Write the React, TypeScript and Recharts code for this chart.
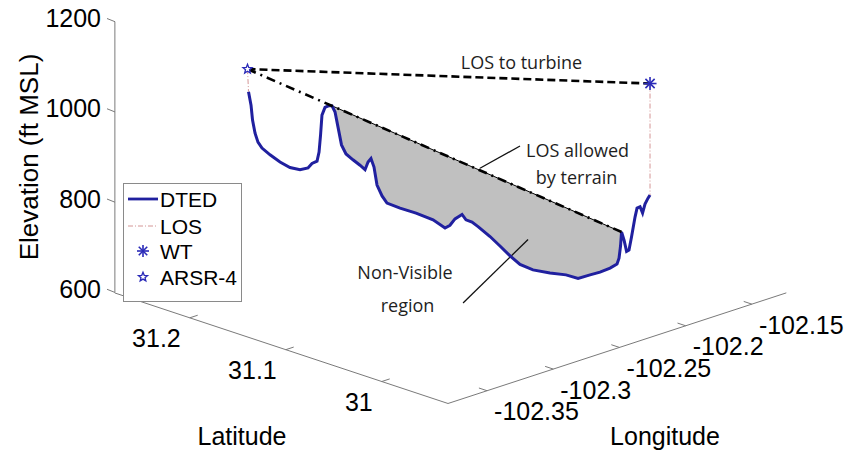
import type { CSSProperties } from "react";
import {
  ComposedChart,
  XAxis,
  YAxis,
  Line,
  Area,
  Scatter,
  ReferenceLine,
  ReferenceDot,
  Legend,
} from "recharts";

// Terrain (DTED) profile along the ARSR-4 -> wind turbine path.
// km = distance from the radar, ft = elevation
const PROFILE_KM = [
  0.1, 0.35, 0.5, 0.75, 1.04, 1.44, 2.24, 3.23, 4.22, 5.22, 6.01, 6.41, 6.91, 7.11, 7.26, 7.4, 7.7, 8.1,
  8.4, 8.7, 8.99, 9.34, 9.79, 10.48, 11.18, 11.68, 11.98, 12.27, 12.57, 12.87, 13.37, 13.86, 15.16, 16.75,
  18.44, 19.63, 20.12, 20.62, 21.32, 21.71, 22.31, 22.91, 24.1, 25.09, 26.09, 27.08, 28.37, 30.06, 31.65,
  32.85, 34.04, 35.03, 36.03, 36.72, 36.92, 37.07, 37.17, 37.42, 37.67, 37.91, 38.16, 38.51, 38.71, 39.01,
  39.26, 39.5, 39.8, 40,
];
const PROFILE_FT = [
  1045, 1015, 982, 953, 933, 920, 905, 889, 877, 872, 876, 886, 891, 911, 949, 993, 1010, 1014,
  1013.5, 1000, 967, 927, 907, 894, 882, 872, 889, 897, 878, 838, 814, 798, 787, 776,
  761, 743, 749, 763, 773, 761, 756, 746, 724, 703, 681, 662, 650, 643, 639,
  631, 639, 645, 654, 663, 676, 703, 734, 716, 691, 694, 723, 767, 787, 790,
  776, 796, 809, 816,
];

// radar and turbine antenna heights
const ARSR_KM = 0;
const ARSR_FT = 1095;
const WT_KM = 40;
const WT_FT = 1063;

// terrain-limited line of sight: tangent point and where it meets the ground again
const SHADOW_FROM_KM = 8.4;
const SHADOW_TO_KM = 37.17;

// axes
const ELEV_TICKS = [600, 800, 1000, 1200];
const LAT_TICKS = [31, 31.1, 31.2];
const LON_TICKS = [-102.35, -102.3, -102.25, -102.2, -102.15];
const LAT_RANGE = [30.931, 31.278];
const LON_RANGE = [-102.3795, -102.124];

const LEGEND_ITEMS = ["DTED", "LOS", "WT", "ARSR-4"];

// chart frame
const CHART_W = 854;
const CHART_H = 453;
const Y_AXIS_W = 114;
const X_DOMAIN: [number, number] = [-13.267, 60.27];
const Y_DOMAIN: [number, number] = [244.3, 1248.1];

const AXIS_FONT = '"Liberation Sans", Arial, sans-serif';
const NOTE_FONT = '"Open Sans", "Noto Sans", sans-serif';
const AXIS_GRAY = "#7a7a7a";
const DTED_BLUE = "#20209f";
const LOS_PINK = "#d49696";
const MARKER_BLUE = "#2a2ab8";

const profile = PROFILE_KM.map((km, i) => ({ km, ft: PROFILE_FT[i] }));
const shadowCover = profile.filter((p) => p.km >= 8.0 && p.km <= 37.5);
const shadowTop = profile.filter((p) => p.km === SHADOW_FROM_KM || p.km === SHADOW_TO_KM);
const groundAtRadar = profile[0];
const groundAtTurbine = profile[profile.length - 1];
const groundAtShadowEnd = shadowTop[shadowTop.length - 1];

// oblique view of the 600 ft floor plane, in chart units (km, ft)
function floorPt(lat: number, lon: number) {
  const dLat = lat - LAT_RANGE[0];
  const dLon = lon - LON_RANGE[0];
  return {
    x: 19.925 - 95.4 * dLat + 131.58 * dLon,
    y: 354.0 + 705.7 * dLat + 959.4 * dLon,
  };
}

function segment(a: { x: number; y: number }, b: { x: number; y: number }, key: string, stroke = AXIS_GRAY, width = 1) {
  return (
    <ReferenceLine
      key={key}
      segment={[a, b]}
      stroke={stroke}
      strokeWidth={width}
      ifOverflow="visible"
    />
  );
}

function textAt(
  x: number,
  y: number,
  text: string,
  key: string,
  style: { size: number; font: string; anchor?: string; dx?: number; dy?: number; color?: string }
) {
  return (
    <ReferenceDot
      key={key}
      x={x}
      y={y}
      r={0}
      ifOverflow="visible"
      shape={(p: any) => (
        <text
          x={p.cx + (style.dx || 0)}
          y={p.cy + (style.dy || 0)}
          textAnchor={style.anchor || "middle"}
          dominantBaseline="central"
          fontSize={style.size}
          fontFamily={style.font}
          fill={style.color || "#000"}
        >
          {text}
        </text>
      )}
    />
  );
}

function starPoints(cx: number, cy: number, R: number, r: number) {
  const pts: string[] = [];
  for (let i = 0; i < 10; i++) {
    const rad = i % 2 === 0 ? R : r;
    const a = -Math.PI / 2 + (i * Math.PI) / 5;
    pts.push(`${cx + rad * Math.cos(a)},${cy + rad * Math.sin(a)}`);
  }
  return pts.join(" ");
}

function Pentagram({ cx, cy }: { cx: number; cy: number }) {
  return <polygon points={starPoints(cx, cy, 4.8, 2.1)} fill="#fff" stroke={MARKER_BLUE} strokeWidth={1.3} />;
}

function Asterisk({ cx, cy, r = 6.5 }: { cx: number; cy: number; r?: number }) {
  const d = r * 0.7071;
  return (
    <g stroke={MARKER_BLUE} strokeWidth={1.6}>
      <line x1={cx - r} y1={cy} x2={cx + r} y2={cy} />
      <line x1={cx} y1={cy - r} x2={cx} y2={cy + r} />
      <line x1={cx - d} y1={cy - d} x2={cx + d} y2={cy + d} />
      <line x1={cx - d} y1={cy + d} x2={cx + d} y2={cy - d} />
    </g>
  );
}

function ElevTick(props: any) {
  const { x, y, payload } = props;
  return (
    <g>
      <line x1={x + 1} y1={y} x2={x - 7} y2={y - 3.2} stroke={AXIS_GRAY} />
      <text
        x={x - 13}
        y={y - 3.5}
        textAnchor="end"
        dominantBaseline="central"
        fontSize={25}
        fontFamily={AXIS_FONT}
        fill="#000"
      >
        {payload.value}
      </text>
    </g>
  );
}

function LegendBox() {
  const rowY = [16, 43, 68, 94];
  const textStyle = { fontSize: 21, fontFamily: AXIS_FONT, fill: "#000" };
  return (
    <svg width={119} height={119} style={{ display: "block" }}>
      <rect x={0.5} y={0.5} width={118} height={118} fill="#fff" stroke="#8a8a8a" />
      <line x1={5} y1={rowY[0]} x2={35} y2={rowY[0]} stroke={DTED_BLUE} strokeWidth={2.8} />
      <line x1={5} y1={rowY[1]} x2={35} y2={rowY[1]} stroke={LOS_PINK} strokeWidth={1} strokeDasharray="5 2 1 2" />
      <Asterisk cx={20} cy={rowY[2]} r={6} />
      <Pentagram cx={20} cy={rowY[3]} />
      {LEGEND_ITEMS.map((name, i) => (
        <text key={name} x={37} y={rowY[i]} dominantBaseline="central" {...textStyle}>
          {name}
        </text>
      ))}
    </svg>
  );
}

export default function App() {
  const pageStyle: CSSProperties = {
    position: "absolute",
    left: 0,
    top: 0,
    width: CHART_W,
    height: CHART_H,
    background: "#fff",
  };

  const zAxisX = floorPt(LAT_RANGE[1], LON_RANGE[0]).x;
  const frontCorner = floorPt(LAT_RANGE[0], LON_RANGE[0]);
  const backCorner = floorPt(LAT_RANGE[1], LON_RANGE[0]);
  const lonEnd = floorPt(LAT_RANGE[0], LON_RANGE[1]);

  const noteStyle = { size: 18, font: NOTE_FONT, color: "#1e1e1e" };
  const tickStyle = { size: 25, font: AXIS_FONT };

  return (
    <div style={pageStyle}>
      <ComposedChart width={CHART_W} height={CHART_H} margin={{ top: 0, right: 0, bottom: 0, left: 0 }}>
        <XAxis type="number" dataKey="km" domain={X_DOMAIN} allowDataOverflow hide />
        <YAxis
          type="number"
          domain={Y_DOMAIN}
          allowDataOverflow
          ticks={ELEV_TICKS}
          interval={0}
          width={Y_AXIS_W}
          axisLine={false}
          tickLine={false}
          tickSize={0}
          tickMargin={0}
          tick={(p: any) => <ElevTick {...p} />}
          label={{
            content: () => (
              <text
                transform="translate(29,157) rotate(-90)"
                textAnchor="middle"
                dominantBaseline="central"
                fontSize={26}
                fontFamily={AXIS_FONT}
                fill="#000"
              >
                Elevation (ft MSL)
              </text>
            ),
          }}
        />

        {/* non-visible region: under the terrain-limited LOS, above the ground */}
        <Area
          data={shadowTop}
          dataKey="ft"
          type="linear"
          baseValue={610}
          fill="#c0c0c0"
          fillOpacity={1}
          stroke="#000"
          strokeWidth={1}
          dot={false}
          activeDot={false}
          isAnimationActive={false}
        />
        <Area
          data={shadowCover}
          dataKey="ft"
          type="linear"
          baseValue={600}
          fill="#fff"
          fillOpacity={1}
          stroke="none"
          dot={false}
          activeDot={false}
          isAnimationActive={false}
        />

        {/* 3-D box axes */}
        {segment({ x: zAxisX, y: ELEV_TICKS[0] }, { x: zAxisX, y: ELEV_TICKS[ELEV_TICKS.length - 1] }, "zaxis")}
        {segment(backCorner, frontCorner, "lat-axis")}
        {segment(frontCorner, lonEnd, "lon-axis")}
        {LAT_TICKS.map((lat) =>
          segment(floorPt(lat, LON_RANGE[0]), floorPt(lat, LON_RANGE[0] + 0.006), `lat-t-${lat}`)
        )}
        {LON_TICKS.map((lon) =>
          segment(floorPt(LAT_RANGE[0], lon), floorPt(LAT_RANGE[0] + 0.0085, lon), `lon-t-${lon}`)
        )}
        {LAT_TICKS.map((lat) => {
          const p = floorPt(lat, LON_RANGE[0]);
          return textAt(p.x, p.y, String(lat), `lat-l-${lat}`, { ...tickStyle, anchor: "end", dx: -9, dy: 20 });
        })}
        {LON_TICKS.map((lon) => {
          const p = floorPt(LAT_RANGE[0], lon);
          return textAt(p.x, p.y, String(lon), `lon-l-${lon}`, { ...tickStyle, anchor: "start", dx: 7, dy: 20.5 });
        })}
        {textAt(-0.55, 282, "Latitude", "lat-title", tickStyle)}
        {textAt(41.49, 282, "Longitude", "lon-title", tickStyle)}

        {/* annotation pointers */}
        {segment({ x: 23.1, y: 875.2 }, { x: 27.08, y: 924.6 }, "ptr-los", "#111", 1.3)}
        {segment({ x: 21.42, y: 576.7 }, { x: 27.88, y: 717.4 }, "ptr-nv", "#111", 1.3)}

        <Line
          data={profile}
          dataKey="ft"
          type="linear"
          stroke={DTED_BLUE}
          strokeWidth={3}
          dot={false}
          activeDot={false}
          isAnimationActive={false}
        />
        <Line
          data={[{ km: ARSR_KM, ft: ARSR_FT }, groundAtRadar]}
          dataKey="ft"
          type="linear"
          stroke={LOS_PINK}
          strokeWidth={1}
          strokeDasharray="5 2 1 2"
          dot={false}
          activeDot={false}
          isAnimationActive={false}
        />
        <Line
          data={[{ km: WT_KM, ft: WT_FT }, groundAtTurbine]}
          dataKey="ft"
          type="linear"
          stroke={LOS_PINK}
          strokeWidth={1}
          strokeDasharray="5 2 1 2"
          dot={false}
          activeDot={false}
          isAnimationActive={false}
        />
        <Line
          data={[{ km: ARSR_KM, ft: ARSR_FT }, { km: WT_KM, ft: WT_FT }]}
          dataKey="ft"
          type="linear"
          stroke="#000"
          strokeWidth={2.6}
          strokeDasharray="8 4"
          dot={false}
          activeDot={false}
          isAnimationActive={false}
        />
        <Line
          data={[{ km: ARSR_KM, ft: ARSR_FT }, groundAtShadowEnd]}
          dataKey="ft"
          type="linear"
          stroke="#000"
          strokeWidth={2.6}
          strokeDasharray="9 5 2 5"
          dot={false}
          activeDot={false}
          isAnimationActive={false}
        />
        <Scatter
          data={[{ km: WT_KM, ft: WT_FT }]}
          dataKey="ft"
          shape={(p: any) => <Asterisk cx={p.cx} cy={p.cy} />}
          isAnimationActive={false}
        />
        <Scatter
          data={[{ km: ARSR_KM, ft: ARSR_FT }]}
          dataKey="ft"
          shape={(p: any) => <Pentagram cx={p.cx} cy={p.cy} />}
          isAnimationActive={false}
        />

        {textAt(27.23, 1111.4, "LOS to turbine", "n1", noteStyle)}
        {textAt(32.8, 915.7, "LOS allowed", "n2", noteStyle)}
        {textAt(32.7, 855.9, "by terrain", "n3", noteStyle)}
        {textAt(15.65, 645.4, "Non-Visible", "n4", noteStyle)}
        {textAt(15.9, 572.3, "region", "n5", noteStyle)}

        <Legend
          layout="horizontal"
          verticalAlign="middle"
          align="center"
          content={() => <LegendBox />}
          wrapperStyle={{ left: 123, top: 183, width: 119, height: 119 }}
        />
      </ComposedChart>
    </div>
  );
}
